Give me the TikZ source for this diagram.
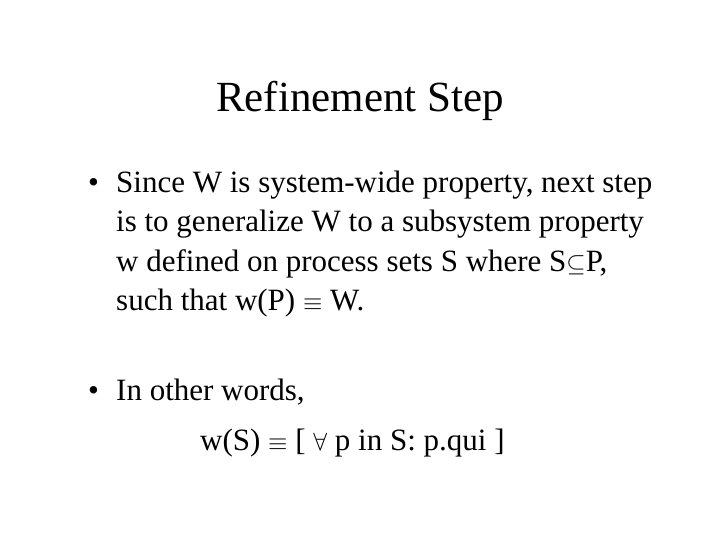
\documentclass[tikz,border=0pt]{standalone}
\usepackage{fontspec}
\setmainfont{Liberation Serif}
\begin{document}
\begin{tikzpicture}[x=1pt,y=-1pt,
  body/.style={anchor=base west,inner sep=0pt,font=\fontsize{31}{36}\selectfont},
  ttl/.style={anchor=base,inner sep=0pt,font=\fontsize{43}{50}\selectfont}]
\useasboundingbox[fill=white] (0,0) rectangle (720,540);
\node[ttl] (title) at (360,112) {Refinement Step};
\node[body] (b1) at (88,193) {•};
\node[body] (l1) at (116,193) {Since W is system-wide property, next step};
\node[body] (l2) at (116,232) {is to generalize W to a subsystem property};
\node[body] (l3) at (116,271) {w defined on process sets S where S$\subseteq$P,};
\node[body] (l4) at (116,310) {such that w(P) $\equiv$ W.};
\node[body] (b2) at (88,400) {•};
\node[body] (m1) at (116,400) {In other words,};
\node[body] (m2) at (200,450) {w(S) $\equiv$ [ $\forall$ p in S: p.qui ]};
\end{tikzpicture}
\end{document}
